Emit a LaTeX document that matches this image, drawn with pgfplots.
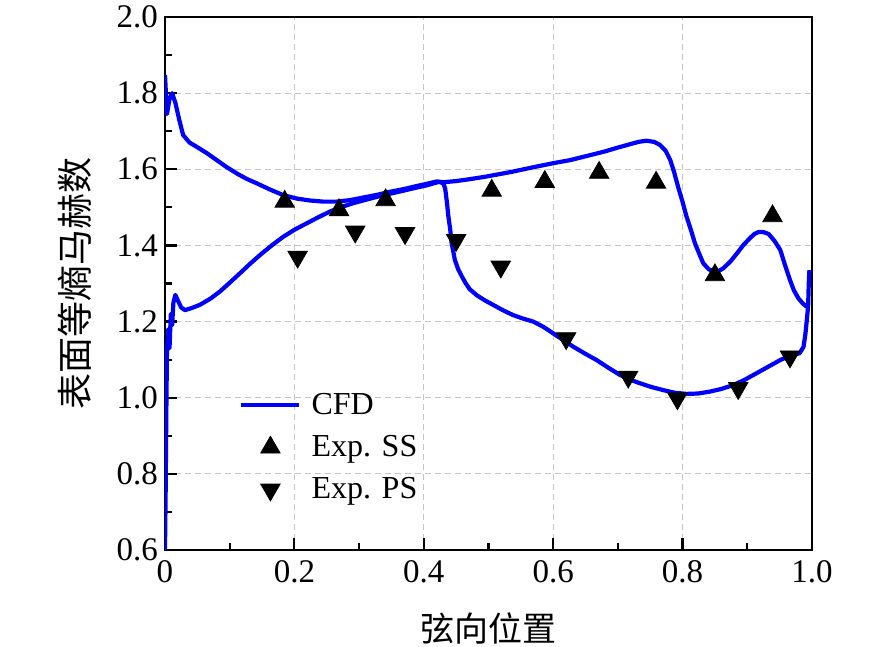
\documentclass[border=0pt]{standalone}
\usepackage{pgfplots}
\pgfplotsset{compat=1.18}
\usepackage{fontspec}
\setmainfont{Liberation Serif}
\newfontfamily\cjk{Noto Sans CJK SC}
\pgfplotsset{
  linelegend/.style={legend image code/.code={\draw[##1] (0pt,0pt) -- (29pt,0pt); \path (32pt,0pt);}},
  marklegend/.style={legend image code/.code={\draw[mark repeat=2,mark phase=2,##1] plot coordinates {(0pt,0pt) (14.5pt,0pt) (29pt,0pt)}; \path (32pt,0pt);}},
}
\begin{document}
\begin{tikzpicture}
\begin{axis}[
  scale only axis,
  width=323.5pt, height=266.5pt,
  xmin=0, xmax=1, ymin=0.6, ymax=2.0,
  xtick={0,0.2,0.4,0.6,0.8,1.0},
  xticklabels={0,0.2,0.4,0.6,0.8,1.0},
  ytick={0.6,0.8,1.0,1.2,1.4,1.6,1.8,2.0},
  minor x tick num=1, minor y tick num=1,
  yticklabel style={/pgf/number format/fixed,/pgf/number format/fixed zerofill,/pgf/number format/precision=1},
  xticklabel style={yshift=-1.5pt},
  /pgf/number format/assume math mode=true,
  ticklabel style={font=\fontsize{16.5}{19}\selectfont},
  tick align=inside,
  xtick pos=bottom, ytick pos=left,
  major tick length=6pt, minor tick length=3.5pt,
  tick style={black, line width=1.1pt},
  axis line style={line width=1.2pt},
  grid=major,
  major grid style={gray!45, line width=0.5pt, dash pattern=on 3pt off 2pt},
  xlabel={\cjk 弦向位置},
  ylabel={\cjk 表面等熵马赫数},
  xlabel style={font=\fontsize{17}{20}\selectfont, at={(axis description cs:0.5,-0.148)}, anchor=center},
  ylabel style={font=\fontsize{18}{21}\selectfont, at={(axis description cs:-0.139,0.5)}, anchor=center},
  legend style={draw=none, fill=none, at={(axis description cs:0.105,0.31)}, anchor=north west,
    font=\fontsize{16}{19}\selectfont, row sep=5pt},
  legend cell align=left,
]
\coordinate (sw) at (rel axis cs:0,0);
\coordinate (ne) at (rel axis cs:1,1);
\addplot[blue, line width=2.1pt, line join=round, no marks, linelegend] coordinates {
(0,1.848) (0.003,1.745) (0.007,1.785) (0.011,1.800) (0.016,1.775) (0.022,1.730)
(0.028,1.690) (0.038,1.670) (0.049,1.659) (0.065,1.642) (0.080,1.624) (0.095,1.606)
(0.111,1.589) (0.126,1.575) (0.142,1.563) (0.162,1.547) (0.183,1.532) (0.204,1.523)
(0.224,1.518) (0.245,1.515) (0.265,1.515) (0.286,1.519) (0.307,1.526) (0.328,1.533)
(0.348,1.541) (0.369,1.548) (0.389,1.556) (0.405,1.562) (0.420,1.568) (0.430,1.566)
(0.450,1.569) (0.471,1.574) (0.497,1.581) (0.535,1.593) (0.574,1.607) (0.600,1.616)
(0.626,1.624) (0.652,1.635) (0.678,1.646) (0.700,1.657) (0.719,1.666) (0.732,1.672)
(0.744,1.675) (0.756,1.672) (0.765,1.664) (0.774,1.648) (0.781,1.624) (0.787,1.592)
(0.793,1.554) (0.800,1.514) (0.806,1.476) (0.813,1.440) (0.819,1.406) (0.826,1.377)
(0.832,1.353) (0.840,1.338) (0.848,1.331) (0.856,1.333) (0.863,1.340) (0.874,1.358)
(0.884,1.379) (0.894,1.401) (0.904,1.419) (0.911,1.430) (0.917,1.435) (0.925,1.435)
(0.933,1.430) (0.942,1.412) (0.951,1.388) (0.958,1.350) (0.966,1.309) (0.972,1.282)
(0.979,1.261) (0.986,1.247) (0.992,1.239) (0.995,1.240)
};
\addlegendentry{CFD}
\addplot[blue, line width=2.1pt, line join=round, no marks, forget plot] coordinates {
(0,0.60) (0.001,0.75) (0.002,0.95) (0.003,1.12) (0.005,1.18) (0.007,1.13) (0.009,1.22)
(0.011,1.19) (0.013,1.25) (0.016,1.27) (0.020,1.255) (0.025,1.237) (0.031,1.230)
(0.042,1.236) (0.054,1.244) (0.070,1.260) (0.085,1.279) (0.100,1.302) (0.116,1.327)
(0.131,1.351) (0.147,1.375) (0.165,1.400) (0.183,1.423) (0.201,1.442) (0.219,1.458)
(0.237,1.474) (0.255,1.489) (0.273,1.501) (0.291,1.511) (0.315,1.522) (0.338,1.532)
(0.364,1.542) (0.389,1.552) (0.405,1.558) (0.415,1.563) (0.424,1.567) (0.430,1.563)
(0.433,1.550) (0.436,1.510) (0.438,1.476) (0.441,1.440) (0.443,1.406) (0.446,1.380)
(0.448,1.362) (0.453,1.338) (0.459,1.318) (0.465,1.300) (0.471,1.285) (0.482,1.269)
(0.494,1.256) (0.507,1.244) (0.522,1.230) (0.538,1.217) (0.553,1.208) (0.569,1.200)
(0.585,1.186) (0.600,1.169) (0.615,1.152) (0.631,1.134) (0.649,1.116) (0.667,1.099)
(0.685,1.079) (0.703,1.060) (0.718,1.048) (0.734,1.038) (0.752,1.028) (0.770,1.020)
(0.788,1.013) (0.806,1.010) (0.824,1.011) (0.842,1.016) (0.860,1.023) (0.878,1.033)
(0.896,1.047) (0.914,1.064) (0.932,1.081) (0.951,1.099) (0.966,1.110) (0.981,1.117)
(0.987,1.134) (0.990,1.170) (0.992,1.204) (0.994,1.240) (0.995,1.300) (0.996,1.335)
};
\addplot[only marks, mark=triangle*, mark size=5.6pt, black, mark options={fill=black}, marklegend] coordinates {
(0.185,1.515) (0.269,1.493) (0.341,1.519) (0.505,1.544) (0.587,1.567)
(0.671,1.591) (0.759,1.565) (0.850,1.322) (0.939,1.477)
};
\addlegendentry{Exp. SS}
\addplot[only marks, mark=triangle*, mark size=5.6pt, black, mark options={fill=black, rotate=180}, marklegend] coordinates {
(0.205,1.370) (0.294,1.436) (0.371,1.432) (0.450,1.414) (0.519,1.344)
(0.620,1.156) (0.716,1.055) (0.792,0.998) (0.886,1.025) (0.966,1.108)
};
\addlegendentry{Exp. PS}
\end{axis}
\pgfresetboundingbox
\path[use as bounding box] ([xshift=-82.5pt,yshift=-48.5pt]sw) rectangle ([xshift=37pt,yshift=8.5pt]ne);
\end{tikzpicture}
\end{document}
